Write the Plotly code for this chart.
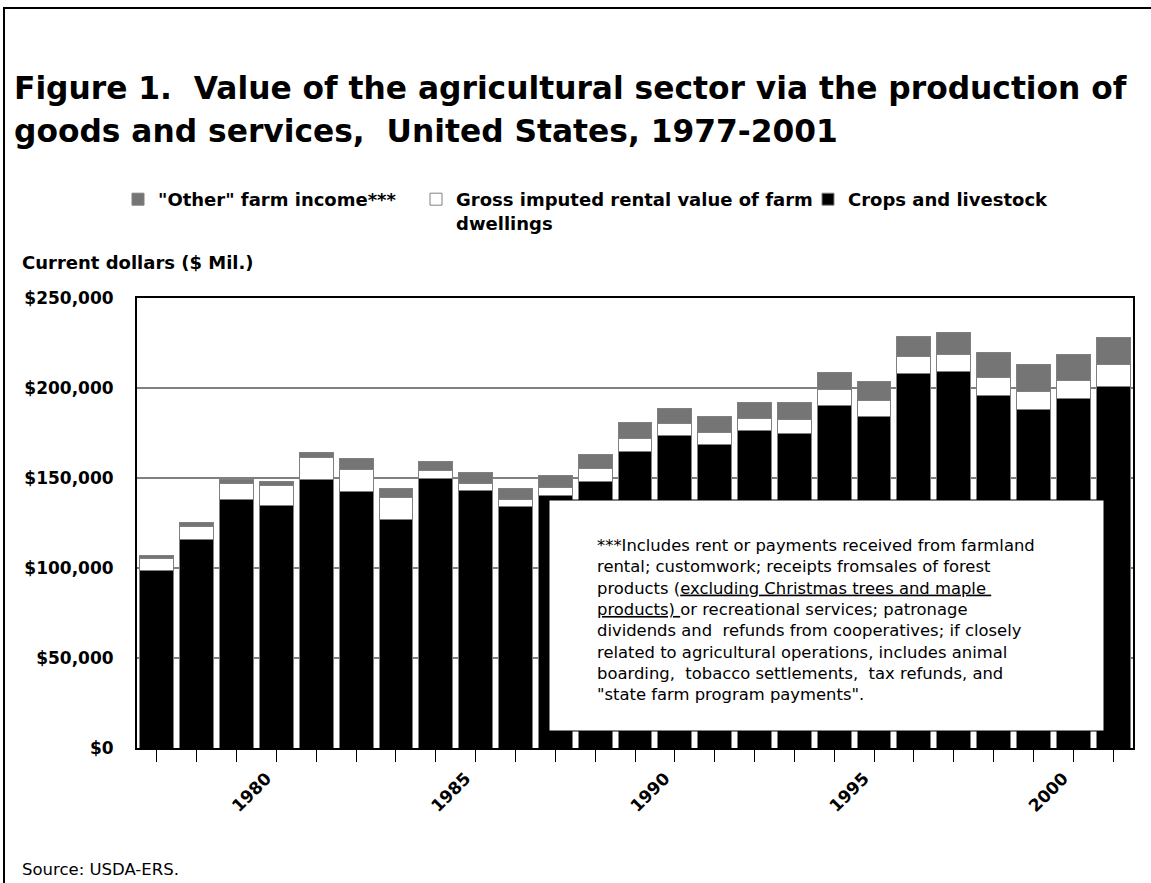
import plotly.graph_objects as go

# Years and stacked components, current dollars ($ Mil.)
years = list(range(1977, 2002))
crops_livestock = [98800, 115600, 138000, 134800, 149100, 142400, 127200, 149600, 142800, 134100,
                   140200, 148000, 165000, 173500, 168500, 176500, 174800, 190400, 183900, 208000,
                   209100, 196100, 188000, 194300, 201100]
rental_value = [6500, 7500, 8700, 10800, 12400, 12600, 12100, 4700, 4400, 4200,
                4600, 7200, 7000, 6900, 6900, 6800, 7800, 8700, 9100, 9400,
                9400, 9500, 10000, 10100, 11700]
other_income = [1900, 2300, 2600, 2400, 2900, 5600, 5100, 5100, 6100, 6000,
                6700, 8100, 8700, 8100, 8500, 8400, 9300, 9400, 10500, 11300,
                12400, 14200, 15100, 14300, 15000]

tick_labels = [str(y) if y % 5 == 0 else "" for y in years]
y_ticks = [0, 50000, 100000, 150000, 200000, 250000]
y_tick_labels = ["$0", "$50,000", "$100,000", "$150,000", "$200,000", "$250,000"]

FONT = "DejaVu Sans, Liberation Sans, sans-serif"
W, H = 1151, 883
ML, MR, MT, MB = 137, 18, 298, 135
PW, PH = W - ML - MR, H - MT - MB


def px(x):
    return (x - ML) / PW


def py(y):
    return (H - MB - y) / PH


outline = dict(color="#808080", width=1)

fig = go.Figure()
fig.add_trace(go.Bar(
    x=years, y=crops_livestock, name="Crops and livestock",
    marker=dict(color="black", line=outline), legend="legend3",
))
fig.add_trace(go.Bar(
    x=years, y=rental_value, name="Gross imputed rental value of farm<br>dwellings",
    marker=dict(color="white", line=outline), legend="legend2",
))
fig.add_trace(go.Bar(
    x=years, y=other_income, name='"Other" farm income***',
    marker=dict(color="#777777", line=outline,
                pattern=dict(shape=".", fgcolor="black", bgcolor="#d0d0d0",
                             size=2, solidity=0.5, fillmode="replace")),
    legend="legend",
))

legend_common = dict(
    orientation="v", yanchor="top", valign="top", bgcolor="rgba(0,0,0,0)",
    font=dict(family=FONT, size=18, color="black", weight="bold"),
    itemclick=False, itemdoubleclick=False, tracegroupgap=0,
)

footnote = (
    "***Includes rent or payments received from farmland<br>"
    "rental; customwork; receipts fromsales of forest<br>"
    "products (<u>excluding Christmas trees and maple&nbsp;</u><br>"
    "<u>products)&nbsp;</u>or recreational services; patronage<br>"
    "dividends and&nbsp; refunds from cooperatives; if closely<br>"
    "related to agricultural operations, includes animal<br>"
    "boarding,&nbsp; tobacco settlements,&nbsp; tax refunds, and<br>"
    "\"state farm program payments\"."
)

fig.update_layout(
    width=W, height=H,
    margin=dict(l=ML, r=MR, t=MT, b=MB),
    paper_bgcolor="white", plot_bgcolor="white",
    barmode="stack", bargap=0.15,
    showlegend=True,
    font=dict(family=FONT, color="black"),
    legend=dict(x=px(118), y=py(181), **legend_common),
    legend2=dict(x=px(416), y=py(181), **legend_common),
    legend3=dict(x=px(808), y=py(181), **legend_common),
    xaxis=dict(
        range=[1976.5, 2001.5], tickvals=years, ticktext=tick_labels,
        tickangle=-45, ticks="outside", ticklen=12, tickcolor="black", tickwidth=1,
        tickfont=dict(family=FONT, size=17, color="black", weight="bold"),
        ticklabelstandoff=0, ticklabelshift=-10,
        showline=True, linecolor="black", linewidth=1.5, mirror=True,
        showgrid=False, zeroline=False,
    ),
    yaxis=dict(
        range=[0, 250000], tickvals=y_ticks, ticktext=y_tick_labels,
        tickfont=dict(family=FONT, size=17, color="black", weight="bold"),
        showline=True, linecolor="black", linewidth=2, mirror=True,
        showgrid=True, gridcolor="#808080", gridwidth=1.5, zeroline=False,
        ticks="", ticklabelstandoff=18,
    ),
    shapes=[
        # outer frame
        dict(type="rect", xref="paper", yref="paper",
             x0=px(4), x1=px(1165), y0=py(900), y1=py(8),
             line=dict(color="black", width=2), fillcolor="rgba(0,0,0,0)", layer="above"),
        # footnote box
        dict(type="rect", xref="paper", yref="paper",
             x0=px(549), x1=px(1104), y0=py(731), y1=py(500),
             line=dict(color="black", width=1), fillcolor="white", layer="above"),
    ],
    annotations=[
        dict(text="<b>Figure 1.&nbsp; Value of the agricultural sector via the production of</b>",
             xref="paper", yref="paper", x=px(12), y=py(88), xanchor="left", yanchor="middle",
             showarrow=False, font=dict(family=FONT, size=31.3, color="black")),
        dict(text="<b>goods and services,&nbsp; United States, 1977-2001</b>",
             xref="paper", yref="paper", x=px(12), y=py(131), xanchor="left", yanchor="middle",
             showarrow=False, font=dict(family=FONT, size=31.3, color="black")),
        dict(text="<b>Current dollars ($ Mil.)</b>",
             xref="paper", yref="paper", x=px(20), y=py(262), xanchor="left", yanchor="middle",
             showarrow=False, font=dict(family=FONT, size=18, color="black")),
        dict(text=footnote, align="left",
             xref="paper", yref="paper", x=px(595), y=py(534), xanchor="left", yanchor="top",
             showarrow=False, font=dict(family=FONT, size=16.4, color="black")),
        dict(text="Source: USDA-ERS.",
             xref="paper", yref="paper", x=px(20), y=py(869), xanchor="left", yanchor="middle",
             showarrow=False, font=dict(family=FONT, size=16.5, color="black")),
    ],
)

fig.write_html("out.html")
